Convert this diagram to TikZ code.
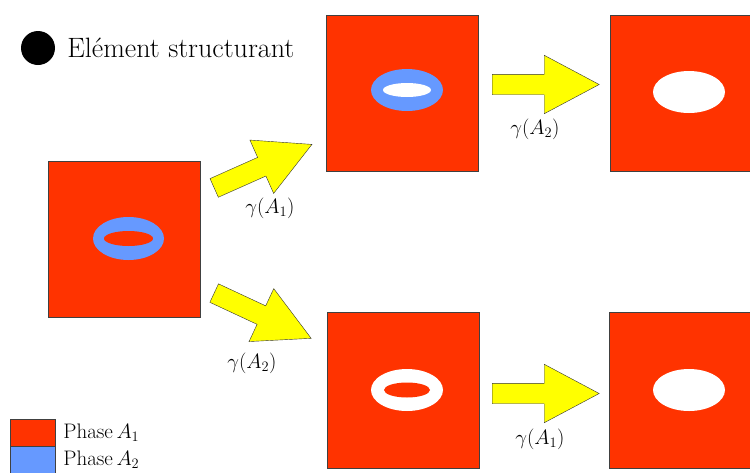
\documentclass[tikz,border=0pt]{standalone}
\usetikzlibrary{positioning,shapes.arrows}
\definecolor{phaseA}{RGB}{255,51,0}
\definecolor{phaseB}{RGB}{102,153,255}
\definecolor{fleche}{RGB}{255,255,0}
\newcommand{\gam}[1]{$\gamma(A_{#1})$}
\newcommand{\pha}[1]{Phase\,$A_{#1}$}

\begin{document}
\begin{tikzpicture}[x=1pt,y=-1pt]
      \useasboundingbox (0,0) rectangle (750,472);

      \begin{scope}[every node/.style={rectangle,draw=black!75,fill=phaseA,minimum width=152pt,minimum height=156pt,inner sep=0pt}]
        \node (1) at (124,239) {};
        \node (2) at (402,93) {};
        \node (3) at (686,93) {};
        \node (4) at (403,390.5) {};
        \node (5) at (685,390.5) {};
      \end{scope}

      % anneaux et trous
      \fill[phaseB] (128.5,238.5) ellipse [x radius=35.5, y radius=21.5];
      \fill[phaseA] (128.5,238.5) ellipse [x radius=24.5, y radius=7.5];
      \fill[phaseB] (407,90) ellipse [x radius=36, y radius=21];
      \fill[white] (407,90) ellipse [x radius=24, y radius=7];
      \fill[white] (689,92) ellipse [x radius=36, y radius=21];
      \fill[white] (407,390) ellipse [x radius=36, y radius=21];
      \fill[phaseA] (407,390) ellipse [x radius=23, y radius=7.5];
      \fill[white] (689,390) ellipse [x radius=36, y radius=21];

      \begin{scope}[every node/.style={single arrow,draw=black!80,fill=fleche,minimum height=107pt,inner xsep=0pt,inner ysep=10pt,single arrow head extend=19pt,single arrow tip angle=56,anchor=tail}]
        \node[rotate=24] (6) at (214,188) {};
        \node[rotate=-25] (7) at (214,293) {};
        \node (8) at (492,84.5) {};
        \node (9) at (492,393.5) {};
      \end{scope}

      \begin{scope}[every node/.style={font=\fontsize{22}{24}\selectfont,inner sep=0pt}]
        \node (g6) at (270,208) {\gam{1}};
        \node (g7) at (252,363) {\gam{2}};
        \node (g8) at (535,129) {\gam{2}};
        \node (g9) at (540,439) {\gam{1}};
      \end{scope}

      % legende
      \node[circle,fill=black,minimum size=34pt,inner sep=0pt] (dot) at (38,48) {};
      \node[right=12pt of dot,inner sep=0pt,font=\fontsize{28}{32}\selectfont] (el) {Elément structurant};
      \node[draw=black!75,fill=phaseA,minimum width=45pt,minimum height=27pt,inner sep=0pt] (r) at (32.5,432.5) {};
      \node[draw=black!75,fill=phaseB,minimum width=45pt,minimum height=27pt,inner sep=0pt,below=0pt of r] (b) {};
      \node[right=8pt of r,inner sep=0pt,font=\fontsize{21}{24}\selectfont] (pa) {\pha{1}};
      \node[right=8pt of b,inner sep=0pt,font=\fontsize{21}{24}\selectfont] (pb) {\pha{2}};

    \end{tikzpicture}
\end{document}
